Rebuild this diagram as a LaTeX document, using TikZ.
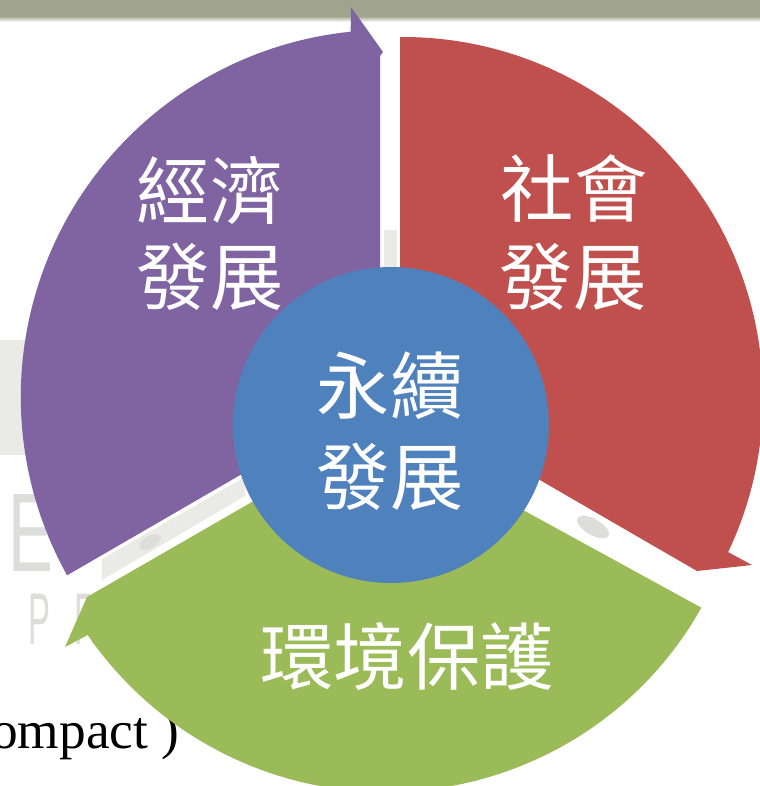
\documentclass[tikz,border=0pt]{standalone}
\usepackage{fontspec}
\newfontfamily\cjk{Noto Sans CJK TC}
\newfontfamily\tms{Liberation Serif}
\newfontfamily\wmfont{Liberation Sans}
\definecolor{purp}{HTML}{8064A2}
\definecolor{redc}{HTML}{C0504D}
\definecolor{grn}{HTML}{9BBB59}
\definecolor{blu}{HTML}{4F81BD}
\definecolor{barc}{HTML}{A1A48D}
\definecolor{wm}{HTML}{EAEAE7}
\definecolor{wmtext}{HTML}{DDDDDB}
\begin{document}
\begin{tikzpicture}[x=0.75pt,y=-0.75pt,
  lbl/.style={text=white,font=\cjk\fontsize{55}{60}\selectfont,inner sep=0pt},
  wmlbl/.style={text=wmtext,inner sep=0pt,anchor=north west}]
\useasboundingbox (0,0) rectangle (760,786);
\clip (0,0) rectangle (760,786);
% background bar
\fill[barc] (0,0) rectangle (760,16);
\shade[top color=barc,bottom color=white] (0,16) rectangle (760,22);
% faint watermark
\fill[wm] (0,340) rectangle (40,455);
\fill[wm] (384,230) rectangle (397,272);
\fill[wm] (102,559) -- (245,477) -- (245,496) -- (102,580) -- cycle;
\fill[wmtext] (150,542) ellipse [x radius=12, y radius=6, rotate=30];
\fill[wmtext] (593,527) ellipse [x radius=18, y radius=8, rotate=-30];
\node[wmlbl,font=\wmfont\fontsize{84}{84}\selectfont,xscale=0.6] (wmE) at (8,494) {E};
\node[wmlbl,font=\wmfont\fontsize{55}{55}\selectfont,xscale=0.45] (wmP) at (28,594) {P};
\node[wmlbl,font=\wmfont\fontsize{55}{55}\selectfont,xscale=0.45] (wmR) at (74,594) {R};
% cut-off caption
\node[anchor=base west,inner sep=0pt,font=\tms\fontsize{40}{40}\selectfont] (cap) at (-9,748) {ompact )};
% segments
\fill[purp] (330,423) -- (67.1,575.3) arc[start angle=150.9, end angle=264.2, radius=367]
  -- (351,7) -- (383,52) -- (380,56) -- (380,423) -- cycle;
\fill[redc] (400,428) -- (400,37) arc[start angle=-90.4, end angle=25.4, radius=360.5]
  -- (752,565) -- (697,571) -- (450,428) -- cycle;
\fill[grn] (701.4,607.7) arc[start angle=29.4, end angle=145.5, radius=362]
  -- (65,647) -- (87,597) -- (330,457) -- (450,470) -- cycle;
% centre
\node[circle,fill=blu,minimum size=237pt,inner sep=0pt] (core) at (391,425) {};
% labels
\node[lbl] (econ1) at (210,190) {經濟};
\node[lbl] (econ2) at (210,277) {發展};
\node[lbl] (soc1) at (574,188) {社會};
\node[lbl] (soc2) at (573,277) {發展};
\node[lbl] (sus1) at (390,386) {永續};
\node[lbl] (sus2) at (390,477) {發展};
\node[lbl] (env) at (407,657) {環境保護};
\end{tikzpicture}
\end{document}
